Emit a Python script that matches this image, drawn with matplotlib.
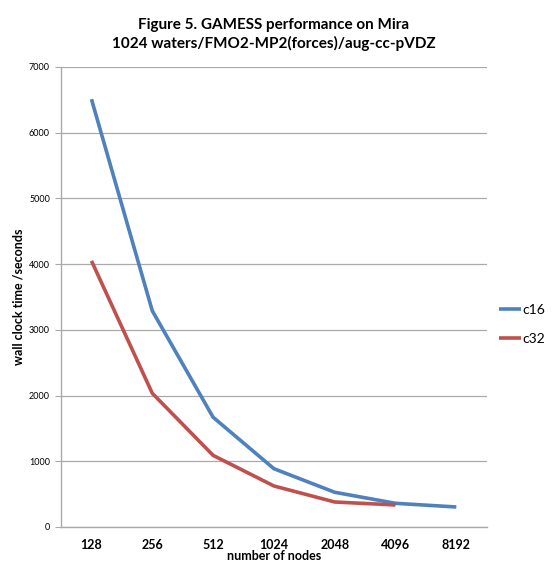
import matplotlib.pyplot as plt
import numpy as np

plt.rcParams['font.family'] = ['Lato', 'DejaVu Sans']

nodes = ['128', '256', '512', '1024', '2048', '4096', '8192']
c16 = [6510, 3290, 1670, 887, 528, 360, 304]
c32 = [4050, 2035, 1090, 624, 380, 335]

fig = plt.figure(figsize=(5.55, 5.63), dpi=100)
ax = fig.add_axes([0.110, 0.064, 0.767, 0.817])

x = np.arange(len(nodes))
ax.plot(x, c16, color='#4F81BD', lw=2.6, label='c16', solid_capstyle='butt')
ax.plot(x[:len(c32)], c32, color='#C0504D', lw=2.6, label='c32', solid_capstyle='butt')

ax.set_xlim(-0.5, len(nodes) - 0.5)
ax.set_ylim(0, 7000)
ax.set_yticks(range(0, 7001, 1000))
ax.set_xticks(x)
ax.set_xticklabels(nodes, fontweight='bold', fontsize=9)
ax.tick_params(axis='x', length=0, pad=9)
ax.tick_params(axis='y', labelsize=6.5, length=4, color='#aaaaaa', pad=4)

ax.yaxis.grid(True, color='#aaaaaa', lw=0.9)
ax.set_axisbelow(True)
for s in ['top', 'right']:
    ax.spines[s].set_visible(False)
for s in ['left', 'bottom']:
    ax.spines[s].set_color('#aaaaaa')
    ax.spines[s].set_linewidth(1.0)

ax.set_xlabel('number of nodes', fontweight='bold', fontsize=9, labelpad=-1)
ax.set_ylabel('wall clock time /seconds', fontweight='bold', fontsize=9, labelpad=3)
ax.set_title('Figure 5. GAMESS performance on Mira\n1024 waters/FMO2-MP2(forces)/aug-cc-pVDZ',
             fontweight='bold', fontsize=11, pad=14, linespacing=1.3)

ax.legend(loc='center left', bbox_to_anchor=(1.0, 0.44), frameon=False,
          fontsize=10, handlelength=1.6, handletextpad=0.1, labelspacing=1.2)

fig.savefig('out.png', dpi=100)
